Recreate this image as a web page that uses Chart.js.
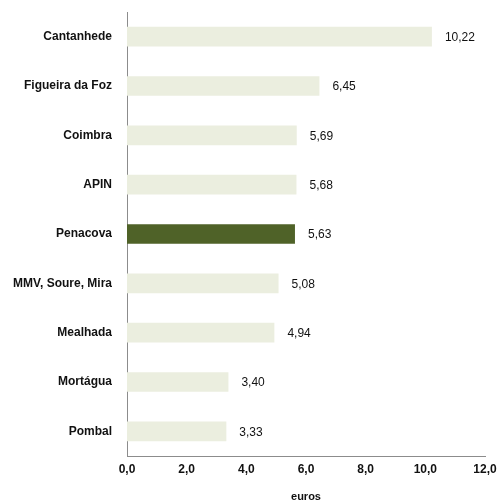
<!DOCTYPE html>
<html>
<head>
<meta charset="utf-8">
<script src="https://cdn.jsdelivr.net/npm/chart.js@4.4.1/dist/chart.umd.min.js"></script>
<style>
  html, body { margin: 0; padding: 0; background: #fff; }
  #wrap { width: 497px; height: 504px; position: relative; }
</style>
</head>
<body>
<div id="wrap"><canvas id="chart"></canvas></div>
<script>
// dados
const concelhos = ['Cantanhede', 'Figueira da Foz', 'Coimbra', 'APIN', 'Penacova',
                   'MMV, Soure, Mira', 'Mealhada', 'Mortágua', 'Pombal'];
const valores = [10.22, 6.45, 5.69, 5.68, 5.63, 5.08, 4.94, 3.40, 3.33];
const destaque = 'Penacova';
const eixoMax = 12;
const eixoPasso = 2;

const corClara = '#ebeedf';
const corEscura = '#4f6228';

const fmt = (v, d) => v.toFixed(d).replace('.', ',');

// escreve o valor à frente de cada barra
const rotulos = {
    id: 'rotulos',
    afterDatasetsDraw(chart) {
        const ctx = chart.ctx;
        const meta = chart.getDatasetMeta(0);
        ctx.save();
        ctx.font = '12px "Liberation Sans", Arial, sans-serif';
        ctx.fillStyle = '#111';
        ctx.textAlign = 'left';
        ctx.textBaseline = 'middle';
        meta.data.forEach((bar, i) => {
            ctx.fillText(fmt(valores[i], 2), bar.x + 13, bar.y + 1);
        });
        ctx.restore();
    }
};

new Chart(document.getElementById('chart').getContext('2d'), {
    type: 'bar',
    data: {
        labels: concelhos,
        datasets: [{
            data: valores,
            backgroundColor: concelhos.map(c => c === destaque ? corEscura : corClara),
            borderWidth: 0,
            barPercentage: 0.4,
            categoryPercentage: 1
        }]
    },
    options: {
        indexAxis: 'y',
        responsive: true,
        maintainAspectRatio: false,
        animation: false,
        layout: { padding: { top: 12, left: 0, right: 12, bottom: 0 } },
        plugins: {
            legend: { display: false },
            tooltip: { enabled: false }
        },
        scales: {
            x: {
                min: 0,
                max: eixoMax,
                grid: { display: false, drawTicks: false },
                border: { display: true, color: '#8c8c8c', width: 1 },
                ticks: {
                    stepSize: eixoPasso,
                    padding: 6,
                    color: '#111',
                    font: { family: '"Liberation Sans", Arial, sans-serif', size: 12, weight: 'bold' },
                    callback: v => fmt(v, 1)
                },
                title: {
                    display: true,
                    text: 'euros',
                    color: '#111',
                    padding: { top: 13, bottom: 0 },
                    font: { family: '"Liberation Sans", Arial, sans-serif', size: 11, weight: 'bold' }
                },
                afterFit: s => {
                    s.height = 48;
                    s.paddingLeft = 0;
                    s.paddingRight = 0;
                }
            },
            y: {
                grid: { display: false, drawTicks: false },
                border: { display: true, color: '#8c8c8c', width: 1 },
                ticks: {
                    padding: 15,
                    color: '#111',
                    font: { family: '"Liberation Sans", Arial, sans-serif', size: 12, weight: 'bold' }
                },
                afterFit: s => {
                    s.width = 127;
                    s.paddingTop = 0;
                    s.paddingBottom = 0;
                }
            }
        }
    },
    plugins: [rotulos]
});
</script>
</body>
</html>
